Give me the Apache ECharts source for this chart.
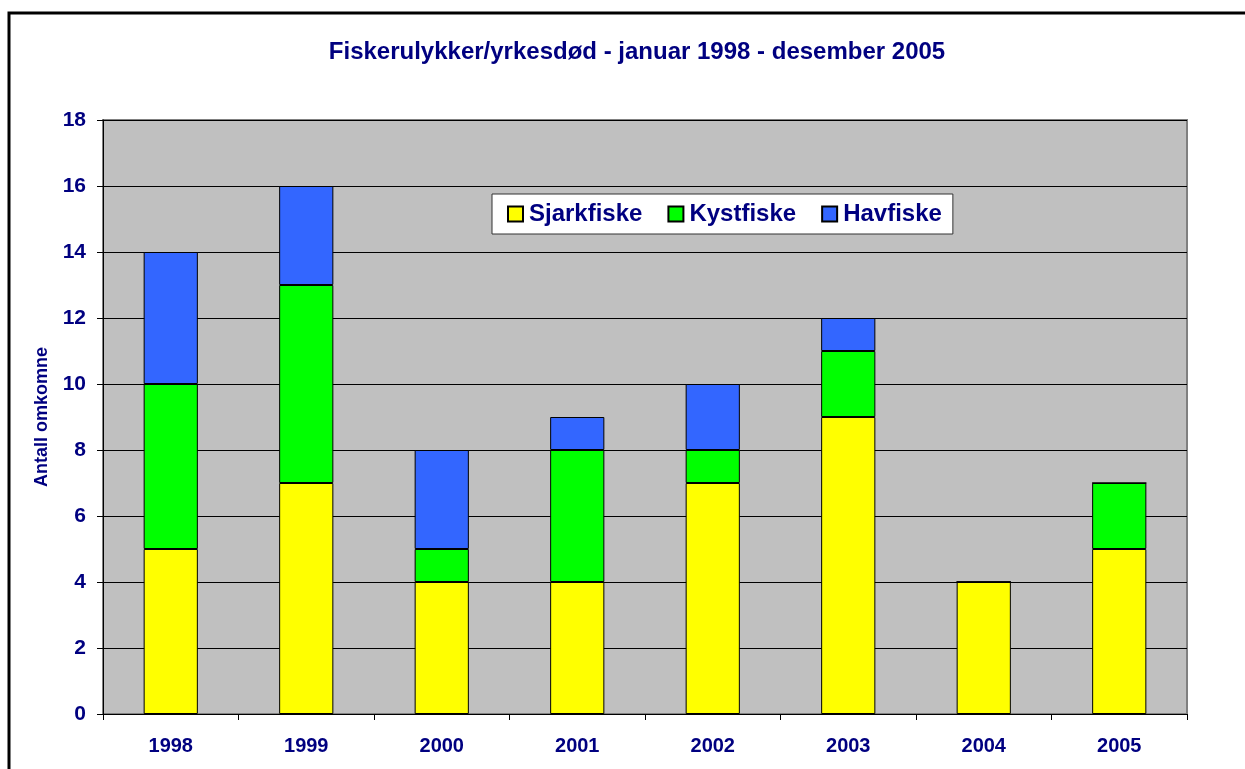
<!DOCTYPE html>
<html>
<head>
<meta charset="utf-8">
<script src="https://cdn.jsdelivr.net/npm/echarts@6/dist/echarts.min.js"></script>
<style>
html, body { margin: 0; padding: 0; background: #fff; }
#Chart { width: 1245px; height: 769px; }
</style>
</head>
<body>
<div id="Chart"></div>
<script>
var years = ['1998', '1999', '2000', '2001', '2002', '2003', '2004', '2005'];
var sjarkfiske = [5, 7, 4, 4, 7, 9, 4, 5];
var kystfiske = [5, 6, 1, 4, 1, 2, 0, 2];
var havfiske = [4, 3, 3, 1, 2, 1, 0, 0];

function showChart() {
    var myChart = echarts.init(document.getElementById('Chart'));
    var navy = '#000080';
    function bar(name, data, color) {
        return {
            name: name,
            type: 'bar',
            stack: 'total',
            data: data,
            barWidth: '40%',
            itemStyle: { color: color, borderColor: '#000', borderWidth: 1 }
        };
    }
    var option = {
        animation: false,
        backgroundColor: '#fff',
        graphic: [{
            type: 'rect',
            shape: { x: 9, y: 13, width: 1300, height: 800 },
            style: { fill: 'none', stroke: '#000', lineWidth: 3 },
            z: 100
        }],
        title: {
            text: 'Fiskerulykker/yrkesdød - januar 1998 - desember 2005',
            left: 632,
            textAlign: 'center',
            top: 35,
            textStyle: { color: navy, fontSize: 24, fontWeight: 'bold', fontFamily: 'Liberation Sans' }
        },
        legend: {
            left: 492,
            top: 194,
            padding: [8, 11, 8, 15],
            itemGap: 25,
            itemWidth: 15,
            itemHeight: 15,
            icon: 'rect',
            backgroundColor: '#fff',
            borderColor: '#333',
            borderWidth: 1,
            textStyle: { color: navy, fontSize: 24, fontWeight: 'bold', fontFamily: 'Liberation Sans', padding: [0, 0, 0, 1] },
            data: ['Sjarkfiske', 'Kystfiske', 'Havfiske']
        },
        grid: {
            left: 103,
            right: 58,
            top: 120,
            bottom: 55,
            show: true,
            backgroundColor: '#C0C0C0',
            borderColor: '#808080',
            borderWidth: 2
        },
        xAxis: {
            type: 'category',
            data: years,
            axisLine: { lineStyle: { color: '#000', width: 1 } },
            axisTick: { show: true, length: 6, lineStyle: { color: '#000' } },
            axisLabel: { color: navy, fontSize: 20, fontWeight: 'bold', fontFamily: 'Liberation Sans', margin: 22 }
        },
        yAxis: {
            type: 'value',
            min: 0,
            max: 18,
            interval: 2,
            name: 'Antall omkomne',
            nameLocation: 'middle',
            nameGap: 52,
            nameTextStyle: { color: navy, fontSize: 18, fontWeight: 'bold', fontFamily: 'Liberation Sans' },
            axisLine: { show: true, lineStyle: { color: '#000', width: 1 } },
            axisTick: { show: true, length: 6, lineStyle: { color: '#000' } },
            axisLabel: { color: navy, fontSize: 21, fontWeight: 'bold', fontFamily: 'Liberation Sans', margin: 17 },
            splitLine: { lineStyle: { color: '#000', width: 1 } }
        },
        series: [
            bar('Sjarkfiske', sjarkfiske, '#FFFF00'),
            bar('Kystfiske', kystfiske, '#00FF00'),
            bar('Havfiske', havfiske, '#3366FF')
        ]
    };
    myChart.setOption(option);
}
showChart();
</script>
</body>
</html>
